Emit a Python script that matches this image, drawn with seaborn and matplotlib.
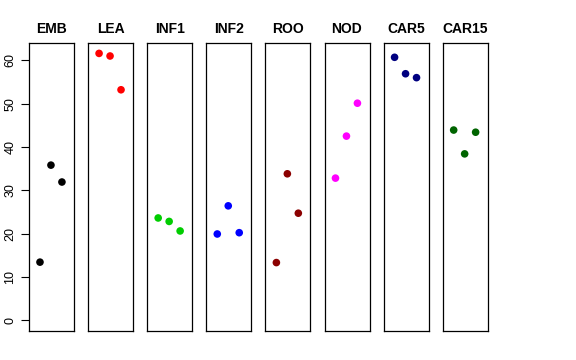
import numpy as np
import pandas as pd
import matplotlib
matplotlib.use("Agg")
import matplotlib.pyplot as plt
import seaborn as sns

tissues = ["EMB", "LEA", "INF1", "INF2", "ROO", "NOD", "CAR5", "CAR15"]
colors = ["#000000", "#FF0000", "#00CD00", "#0000FF", "#8B0000", "#FF00FF", "#000080", "#006400"]
replicate = [1, 2, 3]
emb = [13.4, 35.8, 31.9]
lea = [61.6, 61.0, 53.2]
inf1 = [23.6, 22.8, 20.6]
inf2 = [19.9, 26.4, 20.2]
roo = [13.3, 33.8, 24.7]
nod = [32.8, 42.5, 50.1]
car5 = [60.7, 56.9, 56.0]
car15 = [43.9, 38.4, 43.4]
values = [emb, lea, inf1, inf2, roo, nod, car5, car15]
yticks = [0, 10, 20, 30, 40, 50, 60]

rows = []
for t, vals in zip(tissues, values):
    for r, v in zip(replicate, vals):
        rows.append({"tissue": t, "rep": r, "value": v})
df = pd.DataFrame(rows)

sns.set_style("white")
plt.rcParams["font.family"] = ["Liberation Sans", "DejaVu Sans"]
plt.rcParams["text.color"] = "black"
plt.rcParams["axes.labelcolor"] = "black"
plt.rcParams["ytick.color"] = "black"
plt.rcParams["xtick.color"] = "black"

fig = plt.figure(figsize=(5.76, 3.6), dpi=100)
W, H = 576, 360
left0, pw, step = 29, 45, 59.1
top, bottom = 43, 331

for i, (t, c) in enumerate(zip(tissues, colors)):
    x0 = left0 + i * step
    ax = fig.add_axes([x0 / W, 1 - bottom / H, pw / W, (bottom - top) / H])
    sub = df[df["tissue"] == t]
    sns.scatterplot(data=sub, x="rep", y="value", color=c, s=30,
                    edgecolor="none", ax=ax, legend=False)
    ax.set_xlim(0, 4.1)
    ax.set_ylim(-2.5, 64)
    ax.set_xticks([])
    ax.set_xlabel("")
    ax.set_ylabel("")
    ax.set_title(t, fontsize=10, fontweight="bold", pad=7, color="black")
    for sp in ax.spines.values():
        sp.set_visible(True)
        sp.set_color("black")
        sp.set_linewidth(0.9)
    if i == 0:
        ax.set_yticks(yticks)
        ax.set_yticklabels([str(v) for v in yticks], rotation=90, va="center", fontsize=9)
        ax.tick_params(axis="y", left=True, length=6, width=0.8, pad=3, color="black",
                       labelcolor="black")
    else:
        ax.set_yticks([])

fig.savefig("out.png", dpi=100)
